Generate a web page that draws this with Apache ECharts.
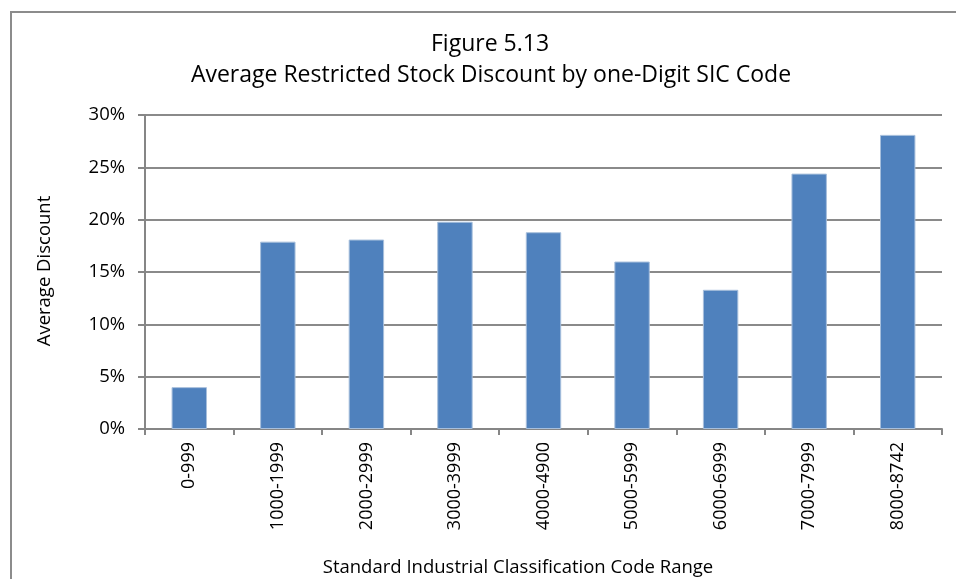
<!DOCTYPE html>
<html>
<head>
<meta charset="utf-8">
<script src="https://cdn.jsdelivr.net/npm/echarts@6/dist/echarts.min.js"></script>
<style>
html,body{margin:0;padding:0;background:#fff;}
#chart{width:956px;height:579px;}
</style>
</head>
<body>
<div id="chart"></div>
<script>
var categories = ['0-999','1000-1999','2000-2999','3000-3999','4000-4900','5000-5999','6000-6999','7000-7999','8000-8742'];
var discounts = [0.040, 0.179, 0.181, 0.198, 0.188, 0.160, 0.133, 0.244, 0.281];
var yTicks = {min: 0, max: 0.30, interval: 0.05};
var titleLine1 = 'Figure 5.13';
var titleLine2 = 'Average Restricted Stock Discount by one-Digit SIC Code';
var yName = 'Average Discount';
var xName = 'Standard Industrial Classification Code Range';

var FONT = '"Open Sans", "Noto Sans", sans-serif';
var chart = echarts.init(document.getElementById('chart'), null, {renderer: 'canvas'});
chart.setOption({
  animation: false,
  backgroundColor: '#ffffff',
  grid: {left: 145, right: 14, top: 115, bottom: 150, containLabel: false},
  graphic: [
    {type: 'rect', shape: {x: 11, y: 12, width: 970, height: 600},
     style: {fill: 'none', stroke: '#8c8c8c', lineWidth: 2}, silent: true},
    {type: 'text', x: 490, y: 44, style: {text: titleLine1, fontFamily: FONT, fontSize: 23, fill: '#000', align: 'center', verticalAlign: 'middle'}},
    {type: 'text', x: 491, y: 75, style: {text: titleLine2, fontFamily: FONT, fontSize: 23, fill: '#000', align: 'center', verticalAlign: 'middle'}},
    {type: 'text', x: 45, y: 271, rotation: Math.PI / 2, style: {text: yName, fontFamily: FONT, fontSize: 18.5, fill: '#000', align: 'center', verticalAlign: 'middle'}},
    {type: 'text', x: 518, y: 568, style: {text: xName, fontFamily: FONT, fontSize: 18.5, fill: '#000', align: 'center', verticalAlign: 'middle'}}
  ],
  xAxis: {
    type: 'category',
    data: categories,
    axisLine: {show: true, lineStyle: {color: '#868686', width: 2}},
    axisTick: {show: true, length: 6, alignWithLabel: false, lineStyle: {color: '#868686', width: 2}},
    axisLabel: {rotate: 90, margin: 13, fontFamily: FONT, fontSize: 18, color: '#000', interval: 0},
    splitLine: {show: false}
  },
  yAxis: {
    type: 'value',
    min: yTicks.min, max: yTicks.max, interval: yTicks.interval,
    axisLine: {show: true, lineStyle: {color: '#868686', width: 2}},
    axisTick: {show: true, length: 7, lineStyle: {color: '#868686', width: 2}},
    axisLabel: {fontFamily: FONT, fontSize: 18.5, color: '#000', margin: 20,
      formatter: function (v) { return Math.round(v * 100) + '%'; }},
    splitLine: {show: true, lineStyle: {color: '#8a8a8a', width: 2}}
  },
  series: [{
    type: 'bar',
    data: discounts,
    barWidth: '40%',
    itemStyle: {color: '#4F81BD', borderColor: '#a7bfdc', borderWidth: 1}
  }]
});
</script>
</body>
</html>
